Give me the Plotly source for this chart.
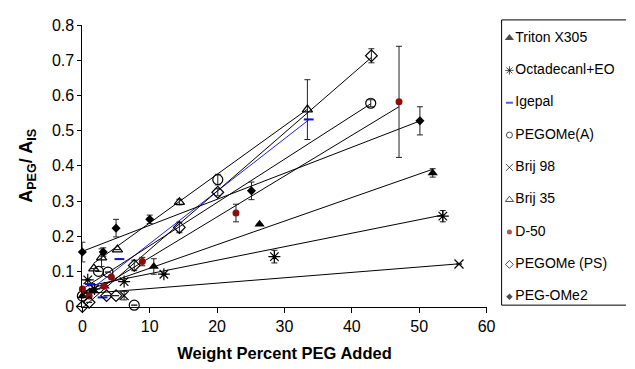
import plotly.graph_objects as go

W, H = 635, 369
FONT = "Liberation Sans, Arial, sans-serif"

# ---------------- data ----------------
names = ["Triton X305", "Octadecanl+EO", "Igepal", "PEGOMe(A)", "Brij 98",
         "Brij 35", "D-50", "PEGOMe (PS)", "PEG-OMe2"]

triton_x = [0.0, 1.5, 3.3, 10.6, 26.3, 52.0]
triton_y = [0.03, 0.045, 0.058, 0.114, 0.234, 0.38]
triton_e = [None, None, None, 0.022, None, 0.012]

octa_x = [0.8, 1.8, 6.2, 12.1, 28.5, 53.5]
octa_y = [0.076, 0.05, 0.071, 0.092, 0.142, 0.257]
octa_e = [None, None, None, None, 0.018, 0.016]

igepal_x = [1.1, 3.0, 5.5, 33.6]
igepal_y = [0.064, 0.026, 0.135, 0.532]
igepal_e = [None, None, None, None]

pegA_x = [0.0, 2.4, 3.8, 7.7, 20.1, 42.8]
pegA_y = [0.03, 0.1, 0.098, 0.004, 0.361, 0.578]
pegA_e = [None, None, None, None, 0.015, 0.01]

brij98_x = [0.5, 6.2, 55.9]
brij98_y = [0.04, 0.031, 0.121]
brij98_e = [None, 0.012, None]

brij35_x = [1.7, 2.85, 5.2, 14.4, 33.4]
brij35_y = [0.108, 0.139, 0.162, 0.297, 0.56]
brij35_e = [None, 0.025, None, 0.008, 0.085]

d50_x = [0.0, 1.0, 3.2, 4.3, 8.9, 22.8, 47.0]
d50_y = [0.05, 0.03, 0.058, 0.084, 0.128, 0.266, 0.582]
d50_e = [None, None, None, None, 0.012, 0.025, 0.158]

pegPS_x = [0.0, 1.0, 3.6, 5.0, 7.7, 14.4, 20.1, 42.9]
pegPS_y = [0.0, 0.012, 0.031, 0.031, 0.117, 0.225, 0.325, 0.713]
pegPS_e = [None, None, None, None, 0.015, 0.015, 0.01, 0.02]

pegOMe2_x = [0.0, 3.1, 5.0, 10.0, 25.1, 50.1]
pegOMe2_y = [0.155, 0.155, 0.223, 0.248, 0.329, 0.528]
pegOMe2_e = [0.028, 0.012, 0.025, 0.012, 0.025, 0.04]

# linear trend lines (intercept, slope)
fit_intercept = [0.042, 0.055, 0.03, 0.05, 0.036, 0.10, 0.023, -0.004, 0.157]
fit_slope = [0.0067, 0.00384, 0.0149, 0.0123, 0.00153, 0.0138, 0.0116, 0.0166, 0.0074]

x_ticks = [0, 10, 20, 30, 40, 50, 60]
y_ticks = [0, 0.1, 0.2, 0.3, 0.4, 0.5, 0.6, 0.7, 0.8]
y_ticklabels = ["0", "0.1", "0.2", "0.3", "0.4", "0.5", "0.6", "0.7", "0.8"]

# ---------------- styles ----------------
xs = [triton_x, octa_x, igepal_x, pegA_x, brij98_x, brij35_x, d50_x, pegPS_x, pegOMe2_x]
ys = [triton_y, octa_y, igepal_y, pegA_y, brij98_y, brij35_y, d50_y, pegPS_y, pegOMe2_y]
es = [triton_e, octa_e, igepal_e, pegA_e, brij98_e, brij35_e, d50_e, pegPS_e, pegOMe2_e]
symbols = ["triangle-up", "asterisk-open", "line-ew-open", "circle-open", "x-thin-open",
           "triangle-up-open", "circle", "diamond-open", "diamond"]
mcolors = ["black", "black", "#1010e0", "black", "black", "black", "#8b0d0d", "black", "black"]
msizes = [9, 10, 7, 10, 9, 9, 7, 9, 7]
mline_w = [0, 1.2, 2, 1.2, 1.2, 1.2, 0, 1.2, 0]
line_colors = ["black", "black", "#2020e8", "black", "black", "black", "black", "black", "black"]
leg_sizes = [8, 7, 5, 6, 7, 7, 5, 6, 5]
leg_line_w = [0, 1, 2, 1, 1, 1, 0, 1, 0]

fig = go.Figure()

# trend lines first (under the markers)
for i in range(len(names)):
    x0, x1 = min(xs[i]), max(xs[i])
    fig.add_trace(go.Scatter(
        x=[x0, x1],
        y=[fit_intercept[i] + fit_slope[i] * x0, fit_intercept[i] + fit_slope[i] * x1],
        mode="lines", line=dict(color=line_colors[i], width=1),
        showlegend=False, hoverinfo="skip", cliponaxis=False))

for i in range(len(names)):
    fig.add_trace(go.Scatter(
        x=xs[i], y=ys[i], mode="markers", name=names[i], showlegend=False,
        cliponaxis=False,
        marker=dict(symbol=symbols[i], size=msizes[i], color=mcolors[i],
                    line=dict(color=mcolors[i], width=mline_w[i])),
        error_y=dict(type="data", array=es[i], visible=True,
                     color="#222222", thickness=1, width=3)))

# ---------------- legend drawn in a separate pixel-unit subplot ----------------
leg_left, leg_top, leg_bottom = 508, 12.5, 311.5
leg_first, leg_step = 31.5, 33.9
leg_marker_x = 516
leg_text_x = 522
LX0 = 500  # left pixel of the legend subplot
leg_y = [leg_first + k * leg_step for k in range(len(names))]
fig.add_trace(go.Scatter(
    x=[leg_marker_x] * len(names), y=leg_y, mode="markers",
    marker=dict(symbol=symbols, size=leg_sizes, color=mcolors,
                line=dict(color=mcolors, width=leg_line_w)),
    xaxis="x2", yaxis="y2", showlegend=False, hoverinfo="skip", cliponaxis=False))
fig.add_trace(go.Scatter(
    x=[leg_text_x] * len(names), y=leg_y, mode="text", text=names,
    textposition="middle right",
    textfont=dict(family=FONT, size=14, color="black"),
    xaxis="x2", yaxis="y2", showlegend=False, hoverinfo="skip", cliponaxis=False))

fig.add_shape(type="rect", xref="x2", yref="y2",
              x0=leg_left, x1=W + 20, y0=leg_top, y1=leg_bottom,
              line=dict(color="black", width=1), fillcolor="rgba(0,0,0,0)")

fig.update_layout(
    width=W, height=H,
    margin=dict(l=0, r=0, t=0, b=0),
    paper_bgcolor="white", plot_bgcolor="rgba(0,0,0,0)",
    font=dict(family=FONT, size=16, color="black"),
    showlegend=False,
    xaxis=dict(domain=[80 / W, 492.7 / W], range=[0, 60], tickvals=x_ticks,
               ticks="outside", ticklen=5, tickwidth=1, tickcolor="black",
               showline=True, linecolor="black", linewidth=1,
               showgrid=False, zeroline=False,
               tickfont=dict(size=16), anchor="y",
               title=dict(text="<b>Weight Percent PEG Added</b>",
                          font=dict(size=16.5), standoff=13)),
    yaxis=dict(domain=[1 - 313 / H, 1 - 18 / H], range=[0, 0.8], tickvals=y_ticks,
               ticktext=y_ticklabels, anchor="x",
               ticks="outside", ticklen=4, tickwidth=1, tickcolor="black",
               showline=True, linecolor="black", linewidth=1,
               showgrid=False, zeroline=False,
               tickfont=dict(size=16),
               title=dict(text="<b>A<sub>PEG</sub>/ A<sub>IS</sub></b>",
                          font=dict(size=18), standoff=14)),
    xaxis2=dict(domain=[LX0 / W, 1], range=[LX0, W], visible=False,
                fixedrange=True, anchor="y2"),
    yaxis2=dict(domain=[0, 1], range=[H, 0], visible=False, fixedrange=True,
                anchor="x2"),
)

fig.write_html("out.html")
